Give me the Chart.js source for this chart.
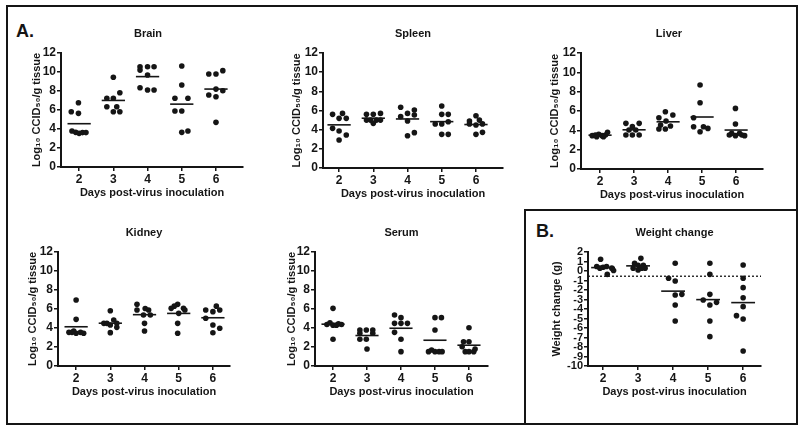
<!DOCTYPE html>
<html><head><meta charset="utf-8">
<script src="https://cdn.jsdelivr.net/npm/chart.js@4/dist/chart.umd.min.js"></script>
<style>
html,body{margin:0;padding:0;background:#fff;width:800px;height:431px;overflow:hidden;font-family:"Liberation Sans",Arial,sans-serif}
.frame{position:absolute;border:2.5px solid #151515;box-sizing:border-box}
.letter{position:absolute;font:bold 18px "Liberation Sans",Arial,sans-serif;color:#151515;line-height:20px}
canvas{position:absolute}
</style></head><body>
<div class="frame" style="left:6px;top:5px;width:792px;height:420px"></div>
<div class="frame" style="left:524px;top:209px;width:274px;height:216px"></div>
<div class="letter" style="left:16px;top:21px">A.</div>
<div class="letter" style="left:536px;top:221px">B.</div>
<canvas id="brain"></canvas><canvas id="spleen"></canvas><canvas id="liver"></canvas>
<canvas id="kidney"></canvas><canvas id="serum"></canvas><canvas id="weight"></canvas>
<script>
// ---- data ----
const days = [2, 3, 4, 5, 6];
const tissueTicks = [0, 2, 4, 6, 8, 10, 12];
const weightTicks = [-10, -9, -8, -7, -6, -5, -4, -3, -2, -1, 0, 1, 2];
const tissueLabel = "Log₁₀ CCID₅₀/g tissue";
const weightLabel = "Weight change (g)";
const xLabel = "Days post-virus inoculation";

const brainX = [1.98,1.77,1.98,1.79,1.9,2.0,2.1,2.2, 3.0,3.19,2.81,3.0,2.81,3.1,3.0,3.19, 3.78,4.0,4.19,3.78,4.0,3.78,4.0,4.19, 5.0,5.0,4.8,5.18,4.8,5.0,5.0,5.18, 5.79,6.0,6.2,5.79,6.0,6.0,6.2,6.0];
const brainY = [6.77,5.82,5.65,3.79,3.65,3.54,3.62,3.62, 9.44,7.82,7.23,7.23,6.35,6.35,5.82,5.82, 10.56,10.56,10.56,10.2,9.68,8.35,8.1,8.1, 10.63,8.63,7.23,7.23,5.89,5.89,3.65,3.79, 9.79,9.79,10.14,7.58,7.4,8.2,8.03,4.7];

const spleenX = [1.81,2.1,2.0,2.21,1.81,2.0,2.21,2.0, 2.8,3.0,3.21,2.8,2.92,3.09,3.21,3.0, 3.8,4.2,3.8,4.0,4.2,4.0,4.2,4.0, 5.0,5.0,5.19,4.81,5.0,5.19,5.0,5.19, 6.0,5.81,6.1,6.19,6.0,5.81,6.0,6.19];
const spleenY = [5.6,5.7,5.18,5.18,4.14,3.86,3.44,2.92, 5.6,5.6,5.7,5.0,5.0,5.0,5.0,4.66, 6.34,6.05,5.36,5.7,5.53,4.9,3.69,3.37, 6.47,5.6,5.6,4.59,4.59,4.83,3.51,3.51, 5.46,4.9,5.0,4.6,4.49,4.6,3.51,3.72];

const liverX = [1.77,1.86,1.96,2.06,2.16,2.22,1.9,2.1, 2.76,3.15,2.95,2.85,3.05,2.76,2.95,3.15, 3.92,4.14,3.73,3.94,3.78,4.07,3.73,3.92, 4.94,4.94,4.75,4.75,5.04,5.17,4.94, 5.98,5.98,5.8,5.98,6.17,5.87,6.1,6.25];
const liverY = [3.45,3.52,3.59,3.45,3.52,3.79,3.34,3.34, 4.72,4.72,4.38,4.03,4.03,3.52,3.52,3.52, 5.93,5.58,5.3,4.96,4.55,4.45,4.14,4.14, 8.69,6.86,5.3,4.37,4.37,4.2,3.86, 6.27,4.65,3.52,3.45,3.52,3.69,3.69,3.45];

const kidneyX = [2.0,2.0,1.79,1.88,2.0,2.13,2.22,1.93, 3.0,3.1,2.81,2.9,3.19,3.0,3.19,3.0, 3.78,3.78,4.02,4.12,3.97,4.17,4.0,4.0, 4.97,4.87,4.78,5.14,5.18,5.0,4.97,4.97, 5.79,6.1,6.2,6.0,5.79,6.0,6.2,6.0];
const kidneyY = [6.95,4.91,3.54,3.54,3.44,3.54,3.44,3.68, 5.82,4.84,4.49,4.49,4.49,4.32,4.07,3.51, 6.49,5.89,6.05,5.89,5.37,5.37,4.49,3.68, 6.49,6.3,6.07,6.07,5.89,5.54,4.49,3.44, 5.9,6.3,5.9,5.72,5.02,4.32,3.97,3.5];

const serumX = [2.0,1.82,1.91,2.0,2.1,2.25,2.16,2.0, 2.79,2.98,3.17,2.79,3.17,2.79,2.98,3.0, 3.81,4.0,3.81,4.0,4.19,3.81,4.0,4.0, 5.0,5.19,5.0,4.81,4.9,5.0,5.12,5.21, 6.0,5.84,6.0,5.8,5.89,6.0,6.14,6.18];
const serumY = [6.07,4.37,4.55,4.3,4.3,4.37,4.45,2.81, 3.79,3.79,3.79,3.44,3.44,2.81,2.81,1.79, 5.37,5.09,4.49,4.49,4.49,3.54,2.81,1.51, 5.09,5.09,3.79,1.51,1.68,1.51,1.51,1.51, 4.03,2.56,2.56,2.03,1.51,1.51,1.51,1.79];

const weightX = [1.93,1.82,2.0,2.1,2.25,1.91,2.3,2.12, 3.08,2.9,2.86,3.0,3.15,3.2,3.0,3.1, 4.06,3.87,4.06,4.06,4.25,4.06,4.06, 5.05,5.05,5.05,4.86,5.05,5.24,5.05,5.05, 6.0,6.0,6.0,6.0,6.0,5.81,6.0,6.0];
const weightY = [1.23,0.47,0.4,0.47,0.3,0.3,0.05,-0.35, 1.33,0.8,0.3,0.6,0.6,0.3,0.1,0.3, 0.81,-0.77,-1.05,-2.53,-2.46,-3.58,-5.26, 0.81,-0.35,-2.46,-3.05,-3.58,-3.3,-5.26,-6.91, 0.63,-0.77,-1.75,-2.81,-3.75,-4.7,-5.05,-8.42];
const weightBaseline = -0.55;

// ---- drawing ----
const INK = '#151515';
const FONT = '"Liberation Sans", Arial, sans-serif';
const MEAN_HALF = 0.34;

function groupMeans(xs, ys) {
  return days.map(d => {
    const v = ys.filter((y, i) => Math.round(xs[i]) === d);
    return v.reduce((a, b) => a + b, 0) / v.length;
  });
}

const panelTitle = {
  id: 'panelTitle',
  afterDraw(chart, args, opts) {
    const {ctx, chartArea} = chart;
    ctx.save();
    ctx.font = 'bold 11px ' + FONT;
    ctx.fillStyle = INK;
    ctx.textAlign = 'center';
    ctx.textBaseline = 'middle';
    ctx.fillText(opts.text, (chartArea.left + chartArea.right) / 2 + (opts.dx || 0), chartArea.top - 19);
    ctx.restore();
  }
};

function makePanel(p) {
  const cv = document.getElementById(p.id);
  const W = p.r - p.l + 60, H = p.b - p.t + 75;
  cv.width = W; cv.height = H;
  cv.style.left = (p.l - 50) + 'px';
  cv.style.top = (p.t - 35) + 'px';
  const means = groupMeans(p.xs, p.ys);
  const datasets = [{
    data: p.xs.map((x, i) => ({x: x, y: p.ys[i]})),
    pointRadius: 2.8, pointBackgroundColor: INK, pointBorderWidth: 0, showLine: false
  }];
  days.forEach((d, i) => {
    datasets.push({
      data: [{x: d - MEAN_HALF, y: means[i]}, {x: d + MEAN_HALF, y: means[i]}],
      showLine: true, borderColor: INK, borderWidth: 1.6, pointRadius: 0
    });
  });
  if (p.baseline !== undefined) {
    datasets.push({
      data: [{x: p.xmin, y: p.baseline}, {x: p.xmax, y: p.baseline}],
      showLine: true, borderColor: INK, borderWidth: 1.3, borderDash: [2, 2], pointRadius: 0
    });
  }
  new Chart(cv, {
    type: 'scatter',
    data: {datasets},
    options: {
      responsive: false, animation: false, devicePixelRatio: 1,
      layout: {padding: {left: 0, top: 35, right: 10, bottom: 0}},
      plugins: {legend: {display: false}, tooltip: {enabled: false}, panelTitle: {text: p.title, dx: p.tdx || 0}},
      scales: {
        x: {
          type: 'linear', min: p.xmin, max: p.xmax,
          afterBuildTicks: s => { s.ticks = days.map(v => ({value: v})); },
          afterFit: s => { s.height = 40; },
          ticks: {autoSkip: false, maxRotation: 0, color: INK, font: {family: FONT, size: 12, weight: 'bold'}, padding: 1},
          grid: {drawOnChartArea: false, drawTicks: true, tickLength: 4, color: INK, lineWidth: 1.5},
          border: {color: INK, width: 2},
          title: {display: true, text: xLabel, color: INK, font: {family: FONT, size: 11, weight: 'bold'}, padding: {top: 0, bottom: 7.4}}
        },
        y: {
          type: 'linear', min: p.yticks[0], max: p.yticks[p.yticks.length - 1],
          afterBuildTicks: s => { s.ticks = p.yticks.map(v => ({value: v})); },
          afterFit: s => { s.width = 50; },
          ticks: {autoSkip: false, color: INK, font: {family: FONT, size: p.tickSize, weight: 'bold', lineHeight: 1}, padding: 1},
          grid: {drawOnChartArea: false, drawTicks: true, tickLength: 4, color: INK, lineWidth: 1.5},
          border: {color: INK, width: 2},
          title: {display: true, text: p.ytitle, color: INK, font: {family: FONT, size: 11, weight: 'bold'}, padding: {top: 50 - p.gap - 6.6, bottom: 0}}
        }
      }
    },
    plugins: [panelTitle]
  });
}

const panels = [
  {id: 'brain',  title: 'Brain',  xs: brainX,  ys: brainY,  l: 61,  r: 243, t: 53,  b: 167, xmin: 1.47, xmax: 6.79, yticks: tissueTicks, ytitle: tissueLabel, gap: 24, tickSize: 12, tdx: -4},
  {id: 'spleen', title: 'Spleen', xs: spleenX, ys: spleenY, l: 323, r: 503, t: 53,  b: 168, xmin: 1.53, xmax: 6.79, yticks: tissueTicks, ytitle: tissueLabel, gap: 26, tickSize: 12},
  {id: 'liver',  title: 'Liver',  xs: liverX,  ys: liverY,  l: 581, r: 763, t: 53,  b: 169, xmin: 1.44, xmax: 6.79, yticks: tissueTicks, ytitle: tissueLabel, gap: 26, tickSize: 12, tdx: -3},
  {id: 'kidney', title: 'Kidney', xs: kidneyX, ys: kidneyY, l: 58,  r: 230, t: 252, b: 366, xmin: 1.47, xmax: 6.5,  yticks: tissueTicks, ytitle: tissueLabel, gap: 25, tickSize: 12},
  {id: 'serum',  title: 'Serum',  xs: serumX,  ys: serumY,  l: 315, r: 488, t: 252, b: 366, xmin: 1.47, xmax: 6.56, yticks: tissueTicks, ytitle: tissueLabel, gap: 23, tickSize: 12},
  {id: 'weight', title: 'Weight change', xs: weightX, ys: weightY, l: 588, r: 761, t: 252, b: 366, xmin: 1.57, xmax: 6.51, yticks: weightTicks, ytitle: weightLabel, gap: 31, tickSize: 11, baseline: weightBaseline}
];
panels.forEach(makePanel);
</script>
</body></html>
